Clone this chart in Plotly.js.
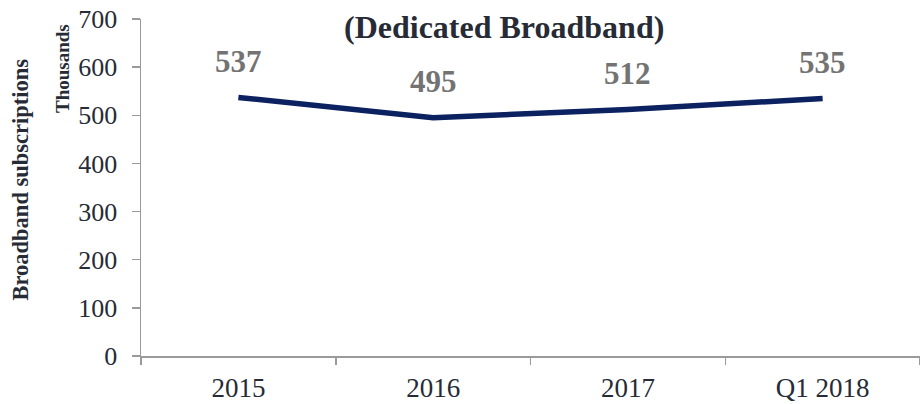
<!DOCTYPE html>
<html><head><meta charset="utf-8">
<script src="https://cdn.plot.ly/plotly-3.0.1.min.js"></script>
<style>html,body{margin:0;padding:0;background:#fff}#chart{width:920px;height:404px}</style>
</head><body><div id="chart"></div>
<script>
const categories = ["2015", "2016", "2017", "Q1 2018"];
const subscriptions = [537, 495, 512, 535];
const yTicks = [0, 100, 200, 300, 400, 500, 600, 700];

const serif = "Liberation Serif, Times New Roman, serif";
const textColor = '#262b36';
const axisColor = '#9a9a9a';

const trace = {
  x: categories, y: subscriptions, type: 'scatter', mode: 'lines',
  line: {color: '#0b2160', width: 5.5}, hoverinfo: 'skip'
};

const labels = categories.map((c, i) => ({
  x: i, y: subscriptions[i], xref: 'x', yref: 'y', text: String(subscriptions[i]),
  showarrow: false, yshift: 36,
  font: {family: serif, size: 31, color: '#737373', weight: 'bold'}
}));

const layout = {
  width: 920, height: 404,
  margin: {l: 141, r: 0, t: 19, b: 48},
  paper_bgcolor: '#fff', plot_bgcolor: '#fff',
  showlegend: false,
  font: {family: serif, color: textColor},
  xaxis: {
    type: 'category', range: [-0.5, 3.5], tickson: 'boundaries',
    ticks: 'outside', ticklen: 7, tickcolor: axisColor, tickwidth: 1.5,
    ticklabelstandoff: 7,
    showline: true, linecolor: axisColor, linewidth: 1.5,
    showgrid: false, zeroline: false,
    tickfont: {family: serif, size: 27, color: textColor}
  },
  yaxis: {
    range: [0, 700], tickvals: yTicks, ticktext: yTicks.map(String),
    ticks: 'outside', ticklen: 8, tickcolor: axisColor, tickwidth: 1.5,
    ticklabelstandoff: 9,
    showline: true, linecolor: axisColor, linewidth: 1.5,
    showgrid: false, zeroline: false,
    tickfont: {family: serif, size: 26, color: textColor}
  },
  annotations: labels.concat([
    {xref: 'paper', yref: 'paper', x: 0.466, y: 1, yanchor: 'middle', xanchor: 'center',
     text: '(Dedicated Broadband)', showarrow: false, yshift: -8,
     font: {family: serif, size: 32, color: textColor, weight: 'bold'}},
    {xref: 'paper', yref: 'paper', x: 0, y: 0.5, xanchor: 'center', yanchor: 'middle',
     text: 'Broadband subscriptions', showarrow: false, textangle: -90, xshift: -121, yshift: 8,
     font: {family: serif, size: 22.5, color: textColor, weight: 'bold'}},
    {xref: 'paper', yref: 'paper', x: 0, y: 1, xanchor: 'center', yanchor: 'middle',
     text: 'Thousands', showarrow: false, textangle: -90, xshift: -79, yshift: -50,
     font: {family: serif, size: 19, color: textColor, weight: 'bold'}}
  ])
};
Plotly.newPlot('chart', [trace], layout, {displayModeBar: false, staticPlot: true});
</script></body></html>
